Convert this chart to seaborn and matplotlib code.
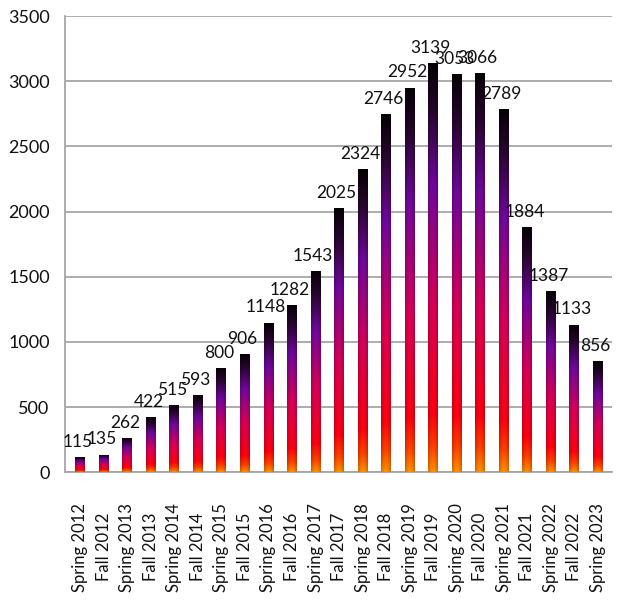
import numpy as np
import pandas as pd
import matplotlib
matplotlib.use("Agg")
import matplotlib.pyplot as plt
from matplotlib.colors import LinearSegmentedColormap
import seaborn as sns

terms = ["Spring 2012", "Fall 2012", "Spring 2013", "Fall 2013", "Spring 2014", "Fall 2014",
         "Spring 2015", "Fall 2015", "Spring 2016", "Fall 2016", "Spring 2017", "Fall 2017",
         "Spring 2018", "Fall 2018", "Spring 2019", "Fall 2019", "Spring 2020", "Fall 2020",
         "Spring 2021", "Fall 2021", "Spring 2022", "Fall 2022", "Spring 2023"]
counts = [115, 135, 262, 422, 515, 593, 800, 906, 1148, 1282, 1543, 2025,
          2324, 2746, 2952, 3139, 3053, 3066, 2789, 1884, 1387, 1133, 856]
yticks = [0, 500, 1000, 1500, 2000, 2500, 3000, 3500]

df = pd.DataFrame({"term": terms, "count": counts})

sns.set_theme(style="white")
plt.rcParams["font.family"] = ["Lato", "DejaVu Sans"]

fig = plt.figure(figsize=(6.25, 6.0), dpi=100)
ax = fig.add_axes([0.104, 0.213, 0.875, 0.76])

sns.barplot(data=df, x="term", y="count", ax=ax, width=0.42, color="white",
            edgecolor="none", linewidth=0)

cmap = LinearSegmentedColormap.from_list("cyl", [
    (0.00, "#ff9000"),
    (0.06, "#ff4000"),
    (0.14, "#ff0010"),
    (0.42, "#d8005a"),
    (0.70, "#70089e"),
    (0.88, "#28062f"),
    (1.00, "#050005"),
])
grad = np.linspace(0, 1, 256).reshape(-1, 1)
shade = 1.0 - 0.22 * np.abs(np.linspace(-1, 1, 32)) ** 2
rgb = cmap(grad)[:, :, :3] * np.ones((1, 32, 1))
rgb = rgb * shade[None, :, None]

for p in ax.patches:
    x0, y0 = p.get_x(), p.get_y()
    w, h = p.get_width(), p.get_height()
    im = ax.imshow(rgb, extent=(x0, x0 + w, y0, y0 + h), origin="lower",
                   aspect="auto", zorder=3, interpolation="bilinear")
    im.set_clip_path(p)
    ax.text(x0 + w / 2 - 0.1, y0 + h + 55, f"{int(h)}", ha="center", va="bottom",
            fontsize=12.5, color="#111111", zorder=4)

ax.set_xlim(-0.65, len(terms) - 0.4)
ax.set_ylim(0, 3500)
ax.set_yticks(yticks)
ax.set_yticklabels([str(v) for v in yticks], fontsize=13, color="#111111")
ax.yaxis.grid(True, color="#a6a6a6", linewidth=1.3)
ax.set_axisbelow(True)
ax.set_xlabel("")
ax.set_ylabel("")

ax.set_xticks(range(len(terms)))
ax.set_xticklabels(terms, rotation=90, fontsize=12, color="#111111")
for lab in ax.get_xticklabels():
    lab.set_verticalalignment("center")
ax.tick_params(axis="x", length=0, pad=54)
ax.set_xticks(np.arange(-0.5, len(terms), 1), minor=True)
ax.tick_params(axis="x", which="minor", length=7, color="#a6a6a6", width=1)
ax.tick_params(axis="y", length=6, color="#a6a6a6", width=1, pad=5)

for s in ["top", "right"]:
    ax.spines[s].set_visible(False)
for s in ["left", "bottom"]:
    ax.spines[s].set_color("#a6a6a6")
    ax.spines[s].set_linewidth(1.3)

fig.savefig("out.png", dpi=100, facecolor="white")
